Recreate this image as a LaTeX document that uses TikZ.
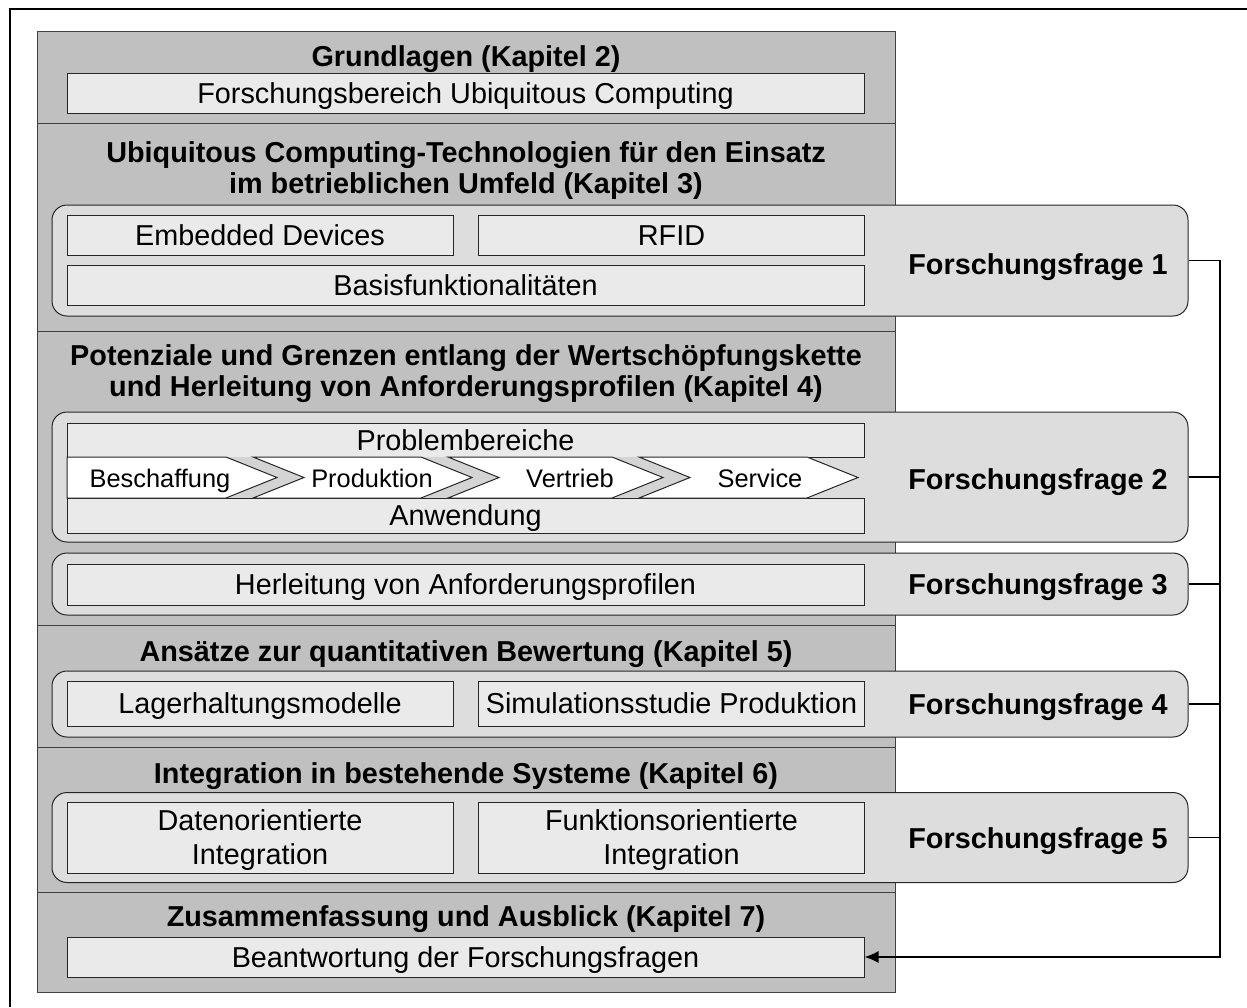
\documentclass[tikz,border=0pt]{standalone}
\usepackage{fontspec}
\setmainfont{Liberation Sans}
\usetikzlibrary{arrows.meta}
\definecolor{bandgray}{RGB}{192,192,192}
\definecolor{framegray}{RGB}{221,221,221}
\definecolor{boxgray}{RGB}{234,234,234}
\definecolor{gapgray}{RGB}{212,212,212}
\newcommand{\boxfont}{\fontsize{14.4}{17}\selectfont}
\newcommand{\kettefont}{\fontsize{12.7}{15}\selectfont}
\newcommand{\titelfont}{\fontsize{14.4}{15.5}\selectfont\bfseries}
\begin{document}
\begin{tikzpicture}[x=0.5pt,y=-0.5pt,
    zeile/.style={text height=10.3pt,text depth=0pt},
    band/.style={draw=black!75,fill=bandgray,line width=0.5pt},
    frage/.style={draw=black!85,fill=framegray,rounded corners=7.5pt,line width=0.5pt,inner sep=0pt,minimum width=568pt},
    kasten/.style={draw=black!85,fill=boxgray,line width=0.5pt,inner sep=0pt,font=\boxfont,align=center},
    breit/.style={kasten,zeile,minimum width=398.5pt},
    halb/.style={kasten,zeile,minimum width=193pt},
    pfeil/.style={draw=black!85,fill=white,line width=0.5pt},
    titel/.style={font=\titelfont,align=center},
    ffrage/.style={font=\titelfont,zeile},
    kette/.style={font=\kettefont,text height=9.1pt,text depth=0pt},
    conn/.style={line width=0.75pt}]
\useasboundingbox (0,0) rectangle (1247,1007);
\draw[line width=1pt] (10,1007) -- (10,9) -- (1247,9);
% Kapitel
\draw[band] (37,31) rectangle (895,123);
\draw[band] (37,123) rectangle (895,331);
\draw[band] (37,331) rectangle (895,625);
\draw[band] (37,625) rectangle (895,747);
\draw[band] (37,747) rectangle (895,892);
\draw[band] (37,892) rectangle (895,992);
\node[titel,zeile] (t2) at (466,56) {Grundlagen (Kapitel 2)};
\node[titel] (t3) at (466,171) {Ubiquitous Computing-Technologien für den Einsatz\\im betrieblichen Umfeld (Kapitel 3)};
\node[titel] (t4) at (466,374) {Potenziale und Grenzen entlang der Wertschöpfungskette\\und Herleitung von Anforderungsprofilen (Kapitel 4)};
\node[titel,zeile] (t5) at (466,651) {Ansätze zur quantitativen Bewertung (Kapitel 5)};
\node[titel,zeile] (t6) at (466,773) {Integration in bestehende Systeme (Kapitel 6)};
\node[titel,zeile] (t7) at (466,916) {Zusammenfassung und Ausblick (Kapitel 7)};
% Forschungsfragen
\node[frage,minimum height=55.5pt] (r1) at (620,260.5) {};
\node[frage,minimum height=65pt] (r2) at (620,477) {};
\node[frage,minimum height=31pt] (r3) at (620,584) {};
\node[frage,minimum height=33pt] (r4) at (620,704) {};
\node[frage,minimum height=45pt] (r5) at (620,837.5) {};
\node[ffrage] (f1) at (1038,264) {Forschungsfrage 1};
\node[ffrage] (f2) at (1038,479) {Forschungsfrage 2};
\node[ffrage] (f3) at (1038,584) {Forschungsfrage 3};
\node[ffrage] (f4) at (1038,704) {Forschungsfrage 4};
\node[ffrage] (f5) at (1038,838) {Forschungsfrage 5};
% Inhalte
\node[breit,minimum height=20pt] (fb) at (465.5,93) {Forschungsbereich Ubiquitous Computing};
\node[halb,minimum height=20pt] (ed) at (260,235) {Embedded Devices};
\node[halb,minimum height=20pt] (rfid) at (671.5,235) {RFID};
\node[breit,minimum height=20pt] (bas) at (465.5,285) {Basisfunktionalitäten};
\node[breit,minimum height=17pt] (prob) at (465.5,440) {Problembereiche};
\node[breit,minimum height=17.5pt] (anw) at (465.5,515.5) {Anwendung};
\node[breit,minimum height=20.5pt] (herl) at (465.5,584.5) {Herleitung von Anforderungsprofilen};
\node[halb,minimum height=22.5pt] (lag) at (260,703.5) {Lagerhaltungsmodelle};
\node[halb,minimum height=22.5pt] (sim) at (671.5,703.5) {Simulationsstudie Produktion};
\node[halb,text height=,text depth=0pt,minimum height=35.5pt] (dat) at (260,837.5) {Datenorientierte\\Integration};
\node[halb,text height=,text depth=0pt,minimum height=35.5pt] (fun) at (671.5,837.5) {Funktionsorientierte\\Integration};
\node[breit,minimum height=20pt] (ans) at (465.5,957) {Beantwortung der Forschungsfragen};
% Wertschoepfungskette
\fill[gapgray] (226,457) rectangle (690,498);
\draw[pfeil] (67,457) -- (226,457) -- (277,477.5) -- (226,498) -- (67,498) -- cycle;
\foreach \l/\r in {253/421, 448/612, 639/807}
  \draw[pfeil] (\l,457) -- (\r,457) -- (\r+51,477.5) -- (\r,498) -- (\l,498) -- (\l+51,477.5) -- cycle;
\node[kette] (besch) at (160,478) {Beschaffung};
\node[kette] (prod) at (372,478) {Produktion};
\node[kette] (vert) at (570,478) {Vertrieb};
\node[kette] (serv) at (760,478) {Service};
% Verbindungen
\coordinate (bus) at (1220,957);
\draw[conn,-{Latex[length=7pt,width=6pt]}] (r1.east) -- (r1.east -| bus) -- (bus) -- (ans.east);
\foreach \r in {r2,r3,r4,r5}
  \draw[conn] (\r.east) -- (\r.east -| bus);
\end{tikzpicture}
\end{document}
